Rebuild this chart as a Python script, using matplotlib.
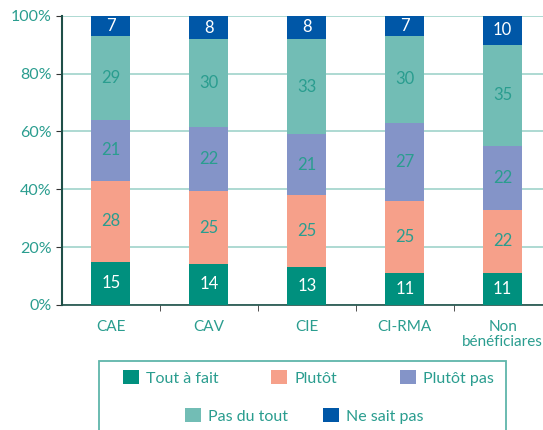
import matplotlib.pyplot as plt
import numpy as np
from matplotlib.patches import Patch, Rectangle

categories = ["CAE", "CAV", "CIE", "CI-RMA", "Non\nbénéficiares"]
series = ["Tout à fait", "Plutôt", "Plutôt pas", "Pas du tout", "Ne sait pas"]
tout = [15, 14, 13, 11, 11]
plutot = [28, 25, 25, 25, 22]
plutot_pas = [21, 22, 21, 27, 22]
pas_du_tout = [29, 30, 33, 30, 35]
ne_sait = [7, 8, 8, 7, 10]

colors = ["#00907e", "#f6a08a", "#8494c8", "#72bdb5", "#0057a7"]
label_colors = ["white", "#2a9d8f", "#2a9d8f", "#2a9d8f", "white"]
teal = "#2a9d8f"

plt.rcParams['font.family'] = ['Lato', 'DejaVu Sans']

fig = plt.figure(figsize=(5.43, 4.30), dpi=100)
ax = fig.add_axes([0.114, 0.291, 0.902, 0.672])

data = np.array([tout, plutot, plutot_pas, pas_du_tout, ne_sait], dtype=float)
totals = data.sum(axis=0)
shares = data / totals * 100  # bars fill to 100 %
x = np.arange(len(categories))
bottom = np.zeros(len(categories))
for i in range(len(series)):
    ax.bar(x, shares[i], 0.40, bottom=bottom, color=colors[i], zorder=3)
    for j in range(len(categories)):
        ax.text(x[j], bottom[j] + shares[i][j] / 2, "%d" % data[i][j],
                ha="center", va="center", fontsize=12, color=label_colors[i], zorder=4)
    bottom += shares[i]

ax.set_xlim(-0.5, 4.5)
ax.set_ylim(0, 100)
ax.set_yticks(np.arange(0, 101, 20))
ax.set_yticklabels(["%d%%" % v for v in range(0, 101, 20)])
ax.yaxis.grid(True, color="#9fd3cb", linewidth=1.2, zorder=0)
ax.set_xticks(x)
ax.set_xticklabels(categories, linespacing=1.05)
ax.set_xticks(np.arange(0.5, 4.5, 1), minor=True)
ax.tick_params(axis="x", which="major", length=0, colors=teal, labelsize=11, pad=11)
ax.tick_params(axis="x", which="minor", length=4, direction="out", color="#333333")
ax.tick_params(axis="y", length=4, direction="out", color="#333333", labelcolor=teal, labelsize=11.5)
for s in ["top", "right"]:
    ax.spines[s].set_visible(False)
ax.spines["left"].set_color("#1f4f48")
ax.spines["left"].set_linewidth(1.5)
ax.spines["bottom"].set_color("#1f4f48")
ax.spines["bottom"].set_linewidth(1.2)

# legend box
fig.patches.append(Rectangle((0.182, -0.05), 0.750, 0.21, transform=fig.transFigure,
                             fill=False, edgecolor="#5fb5aa", linewidth=1.3))
handles = [Patch(facecolor=c) for c in colors]
# left edge of each legend square (figure fraction) and row height
item_x = [0.2265, 0.499, 0.737, 0.341, 0.595]
item_y = [0.121, 0.121, 0.121, 0.033, 0.033]
for h, lab, lx, ly in zip(handles, series, item_x, item_y):
    fig.legend([h], [lab], loc="center left", bbox_to_anchor=(lx, ly),
               frameon=False, fontsize=11.5, labelcolor=teal, handlelength=1.0,
               handleheight=1.0, handletextpad=0.45, borderpad=0, borderaxespad=0)

fig.savefig("out.png", dpi=100)
